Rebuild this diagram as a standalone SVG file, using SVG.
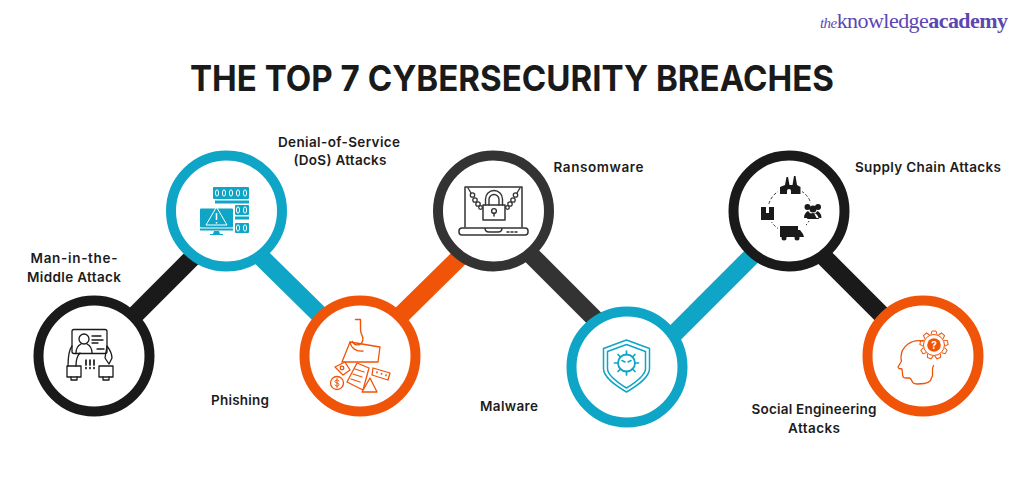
<svg xmlns="http://www.w3.org/2000/svg" width="1024" height="500" viewBox="0 0 1024 500">
<style>
text{font-family:"Inter","Noto Sans",sans-serif}
.t{font-size:35.5px;font-weight:700;fill:#1a1a1a}
.l{font-size:13.5px;font-weight:600;fill:#1c1c1c;text-anchor:middle}
.r{fill:#fff;stroke-width:10}
.c{fill:none;stroke-width:18}
.k{stroke:#1a1a1a}.b{stroke:#0ea5c6}.o{stroke:#f05408}.d{stroke:#333}
.i{fill:none;stroke-width:1.3;stroke-linejoin:round;stroke-linecap:round}
.logo{font-family:"Liberation Serif",serif;font-size:22px;fill:#5b47b3}
</style>
<defs><path id="tooth" d="M-3-10.500L-2-14H2L3-10.500" fill="none" stroke="#f05408" stroke-width="1"/></defs>
<rect width="1024" height="500" fill="#fff"/>
<g id="logo"><text class="logo" x="820" y="28" textLength="188" lengthAdjust="spacing"><tspan font-style="italic" font-size="15">the</tspan>knowledge<tspan font-weight="700">academy</tspan></text></g>
<text class="t" x="190" y="91" textLength="644" lengthAdjust="spacingAndGlyphs">THE TOP 7 CYBERSECURITY BREACHES</text>
<g id="connectors">
<line class="c k" x1="130" y1="320" x2="197" y2="253"/>
<line class="c b" x1="257" y1="253" x2="324" y2="319"/>
<line class="c o" x1="397" y1="319" x2="464" y2="253"/>
<line class="c d" x1="527" y1="251" x2="599" y2="323"/>
<line class="c b" x1="669" y1="339" x2="757" y2="251"/>
<line class="c k" x1="820" y1="253" x2="887" y2="320"/>
</g>
<g id="node-mitm">
<circle class="r k" cx="94" cy="356" r="55.5"/>
<g class="i k">
<rect x="72" y="329.500" width="35" height="24" rx="2"/>
<circle cx="84" cy="339" r="5"/>
<path d="M76 353c0-6 3-8 5-9M92 353c0-6-3-8-5-9"/>
<path d="M92 336h9M92 340h11M92 343h6M97 349h7" />
<path d="M72 346c-3 4-4 9-4 20M107 346c3 4 5 8 5 12l-3 6-4-6 2-12M80 353c-3 3-4 7-4 13"/>
<rect x="67" y="366" width="14" height="11"/><rect x="99" y="366" width="14" height="11"/>
<path d="M71 377v3h6v-3M103 377v3h6v-3"/>
<path stroke-width="1.700" d="M86 360v5M90 360v5M94 360v5M86 367.500v1M90 367.500v1M94 367.500v1"/>
</g>
<text class="l" x="74" y="263" textLength="87">Man-in-the-</text>
<text class="l" x="74" y="282" textLength="94">Middle Attack</text>
</g>
<g id="node-dos">
<circle class="r b" cx="226.500" cy="211" r="55.5"/>
<g fill="#0ea5c6">
<rect x="213" y="187" width="36" height="12" rx="1"/>
<rect x="215" y="200.500" width="34" height="3"/>
<rect x="235" y="205" width="14" height="10" rx="1"/>
<rect x="235" y="216.500" width="14" height="3"/>
<rect x="235" y="223" width="14" height="10" rx="1"/>
<rect x="200" y="208.500" width="33" height="19" rx="1"/>
<rect x="200" y="228.500" width="33" height="2"/>
<path d="M214 231h5l1 3h3v1h-13v-1h3z"/>
</g>
<g fill="none" stroke="#fff" stroke-width="1">
<ellipse cx="217" cy="193" rx="1.600" ry="3.200"/><ellipse cx="224" cy="193" rx="1.600" ry="3.200"/><ellipse cx="231" cy="193" rx="1.600" ry="3.200"/><ellipse cx="238" cy="193" rx="1.600" ry="3.200"/><ellipse cx="245" cy="193" rx="1.600" ry="3.200"/>
<ellipse cx="238" cy="210" rx="1.600" ry="3.200"/><ellipse cx="245" cy="210" rx="1.600" ry="3.200"/>
<ellipse cx="238" cy="228" rx="1.600" ry="3.200"/><ellipse cx="245" cy="228" rx="1.600" ry="3.200"/>
<path d="M216.500 207l-10.500 18h21z" stroke-linejoin="round"/>
<path d="M216.500 213v7M216.500 222v1.500" stroke-width="1.500"/>
</g>
<text class="l" x="339" y="147" textLength="122">Denial-of-Service</text>
<text class="l" x="340" y="165" textLength="93">(DoS) Attacks</text>
</g>
<g id="node-phishing">
<circle class="r o" cx="360" cy="356" r="55.5"/>
<g class="i o">
<path d="M355.500 319.500h5v10c0 3 1 5 2 7 1 3 0 7-3 8-3 1-6 0-7-3" stroke-width="1.400"/>
<path d="M350 342l30 5-2 15-36 0z"/>
<path d="M350 342c1 6 6 10 13 9"/>
<path d="M335 367l10-5 5 8-7 5z"/>
<circle cx="342" cy="368" r="1.800"/>
<path d="M357 363l12 5-6 22-16-8z" fill="#fff"/>
<path d="M355 369l9 3M353 374l9 3M351 379l9 3"/>
<path d="M362 392l8-14 7 14z" fill="#fff"/>
<path d="M373 368l17 5-2 7-16-5z" fill="#fff"/>
<path stroke-width="1.700" d="M377 372v.5M381.500 373.500v.5M386 375v.5"/>
<circle cx="337" cy="383" r="6.500" fill="#fff"/>
<path d="M339 381c-1-1.500-4-1.500-4 .5s4 1 4 3-3 2-4 .5M337 378.500v9" stroke-width="1"/>
</g>
<text class="l" x="240" y="405" textLength="58">Phishing</text>
</g>
<g id="node-ransomware">
<circle class="r d" cx="493.500" cy="211" r="55.5"/>
<g class="i d">
<path d="M465 227v-40h57v40" stroke-width="1.500"/>
<path d="M462 228h63a3 3 0 0 1 3 3v1a3 3 0 0 1-3 3h-63a3 3 0 0 1-3-3v-1a3 3 0 0 1 3-3zM485 228c0 3 2 4 4 4h9c2 0 4-1 4-4" stroke-width="1.500"/>
<path d="M507 232h2M511 232h2M515 232h2" stroke-width="1.500"/>
<rect x="483" y="205" width="22" height="15" stroke-width="1.500"/>
<path d="M485.500 205v-6a8.500 8.500 0 0 1 17 0v6M489 205v-5.500a5 5 0 0 1 10 0v5.500" stroke-width="1.400"/>
<circle cx="494" cy="211" r="2.400" stroke-width="1.400"/><path d="M494 213v3" stroke-width="1.500"/>
<path d="M468 188l3 5M520 188l-3 5"/>
<circle cx="472.500" cy="195" r="2.200"/><circle cx="475" cy="200" r="2.200"/><circle cx="478" cy="204" r="2.200"/><circle cx="480.500" cy="207.500" r="1.800"/>
<circle cx="515.500" cy="195" r="2.200"/><circle cx="513" cy="200" r="2.200"/><circle cx="510" cy="204" r="2.200"/><circle cx="507.500" cy="207.500" r="1.800"/>
</g>
<text class="l" x="598.500" y="172" textLength="90">Ransomware</text>
</g>
<g id="node-malware">
<circle class="r b" cx="627" cy="367" r="55.5"/>
<g class="i b">
<path d="M626.500 340l23 8.500v20c0 9-12 17-23 23.500-11-6.500-23-14.500-23-23.500v-20z" stroke-width="1.500"/>
<path d="M626.500 344.500l19 7v17c0 7-10 14-19 19.500-9-5.500-19-12.500-19-19.500v-17z" stroke-width="1.500"/>
<circle cx="626.500" cy="363" r="8.500" stroke-width="1.800"/>
<path stroke-width="1.700" d="M626.500 354.500v-3.500M626.500 371.500v3.500M618 363h-3.500M635 363h3.500M620.500 357l-2.500-2.500M632.500 357l2.500-2.500M620.500 369l-2.500 2.500M632.500 369l2.500 2.500"/>
<path d="M622 360.500l3 1.500M631 360.500l-3 1.500" stroke-width="1.500"/>
</g>
<text class="l" x="509" y="411" textLength="58">Malware</text>
</g>
<g id="node-supply">
<circle class="r k" cx="789" cy="211" r="55.5"/>
<circle cx="790" cy="210" r="22" fill="none" stroke="#1a1a1a" stroke-width=".9" stroke-dasharray="3 2"/>
<g fill="#fff"><rect x="778" y="178" width="24" height="18"/><rect x="759" y="205" width="17" height="17"/><rect x="802" y="203" width="21" height="18"/><rect x="778" y="224" width="28" height="16"/></g>
<g fill="#1a1a1a">
<path d="M780 194v-7l5-2 1.500-8h1.500l1.500 8 3 0 1.500-9h1.500l1.500 9 3.500 2v7z"/>
<rect x="761" y="207" width="13" height="13"/>
<path d="M780 226h18v11h-18zM798 230l2 0 3 4 1 3h-6z"/>
<circle cx="784" cy="238" r="2.500"/><circle cx="797" cy="238" r="2.500"/>
<circle cx="807.500" cy="207" r="3"/><circle cx="818" cy="207" r="3"/><circle cx="813" cy="209" r="3.500"/>
<path d="M804 218c0-4 2-6 4-7l3 3-2 4zM821.500 218c0-4-2-6-4-7l-3 3 2 4zM807 219c1-4 3-6 6-6s5 2 6 6z"/>
</g>
<rect x="766" y="207" width="3" height="6" fill="#fff"/>
<path d="M787 194v-3a2 2 0 0 1 4 0v3z" fill="#fff"/>
<text class="l" x="928" y="172" textLength="146">Supply Chain Attacks</text>
</g>
<g id="node-social">
<circle class="r o" cx="923" cy="356" r="55.5"/>
<g class="i o" stroke-width="1.100">
<path d="M923 341c-5-1-11 0-15 3-4 3-7 8-7 13 0 2 0 3 .5 4l-3.500 6 1 1.500 3 .5 .5 5c0 2 1 4 3 4h4c1 0 2 2 3 4 1 2 3 2 5 2l7-.5c2 0 4-1 6-3l2-5v-5c0-2 0-3 1-5"/>
<circle cx="934" cy="345" r="10.500" fill="#fff" stroke-width="1"/>
</g>
<g transform="translate(934 345)">
<use href="#tooth"/><use href="#tooth" transform="rotate(40)"/><use href="#tooth" transform="rotate(80)"/><use href="#tooth" transform="rotate(120)"/><use href="#tooth" transform="rotate(160)"/><use href="#tooth" transform="rotate(200)"/><use href="#tooth" transform="rotate(240)"/><use href="#tooth" transform="rotate(280)"/><use href="#tooth" transform="rotate(320)"/>
</g>
<circle cx="934" cy="345" r="6.800" fill="#f05408"/>
<text x="934" y="349" font-size="10" font-weight="700" fill="#fff" text-anchor="middle">?</text>
<text class="l" x="814" y="414" textLength="125">Social Engineering</text>
<text class="l" x="814" y="433" textLength="52">Attacks</text>
</g>
</svg>
